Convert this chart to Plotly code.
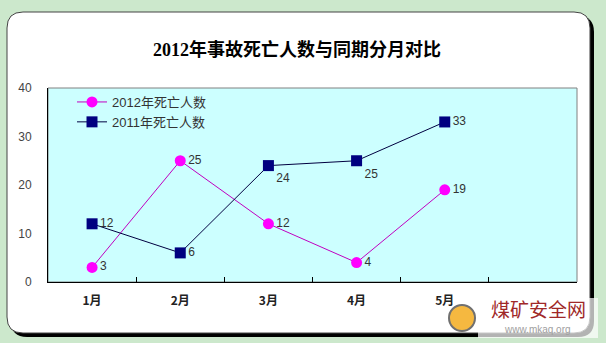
import plotly.graph_objects as go

months = ["1月", "2月", "3月", "4月", "5月"]
deaths_2012 = [3, 25, 12, 4, 19]
deaths_2011 = [12, 6, 24, 25, 33]
name_2012 = "2012年死亡人数"
name_2011 = "2011年死亡人数"
title_text = "2012年事故死亡人数与同期分月对比"
pos_2012 = ["middle right"] * 5
pos_2011 = ["middle right", "middle right", "bottom right", "bottom right", "middle right"]

W, H = 606, 343
L, R, T, B = 48, 577, 88, 282


def px(x):
    return (x - L) / (R - L)


def py(y):
    return (B - y) / (B - T)


def rrect(x0, y0, x1, y1, r):
    pts = [
        ("M", (x0 + r, y0)), ("L", (x1 - r, y0)), ("Q", (x1, y0), (x1, y0 + r)),
        ("L", (x1, y1 - r)), ("Q", (x1, y1), (x1 - r, y1)),
        ("L", (x0 + r, y1)), ("Q", (x0, y1), (x0, y1 - r)),
        ("L", (x0, y0 + r)), ("Q", (x0, y0), (x0 + r, y0)),
    ]
    s = ""
    for p in pts:
        s += p[0] + " " + " ".join(f"{px(a):.5f},{py(b):.5f}" for a, b in p[1:]) + " "
    return s + "Z"


fig = go.Figure()
fig.add_trace(go.Scatter(
    x=months, y=deaths_2012, name=name_2012, mode="lines+markers+text",
    line=dict(color="#c000c0", width=1),
    marker=dict(symbol="circle", size=11, color="#ff00ff"),
    text=[str(v) for v in deaths_2012], textposition=pos_2012,
    textfont=dict(size=12, color="#333333", family="Liberation Sans"),
))
fig.add_trace(go.Scatter(
    x=months, y=deaths_2011, name=name_2011, mode="lines+markers+text",
    line=dict(color="#000040", width=1),
    marker=dict(symbol="square", size=11, color="#000080"),
    text=[str(v) for v in deaths_2011], textposition=pos_2011,
    textfont=dict(size=12, color="#333333", family="Liberation Sans"),
))

shapes = [
    dict(type="path", xref="paper", yref="paper", path=rrect(11, 16, 594, 337, 16),
         fillcolor="black", line=dict(width=0), layer="below"),
    dict(type="path", xref="paper", yref="paper", path=rrect(7, 12, 590, 333, 16),
         fillcolor="white", line=dict(width=1, color="#444444"), layer="below"),
    dict(type="rect", xref="paper", yref="paper", x0=0, x1=1, y0=0, y1=1,
         fillcolor="#ccffff", line=dict(width=1, color="#808080"), layer="below"),
    dict(type="rect", xref="paper", yref="paper", x0=px(478), x1=px(598), y0=py(338), y1=py(298),
         fillcolor="rgba(255,255,255,0.7)", line=dict(width=0), layer="above"),
    dict(type="circle", xref="paper", yref="paper", x0=px(449), x1=px(475), y0=py(305), y1=py(331),
         fillcolor="#f5b840", line=dict(width=2, color="#707070"), layer="above"),
]

annotations = [
    dict(text="煤矿安全网", xref="paper", yref="paper", x=px(538), y=py(308),
         xanchor="center", yanchor="middle",
         showarrow=False, font=dict(size=19, color="#a02828", family="Noto Sans CJK SC")),
    dict(text="www.mkaq.org", xref="paper", yref="paper", x=px(537), y=py(329),
         xanchor="center", yanchor="middle",
         showarrow=False, font=dict(size=10, color="#a0a0a0", family="Liberation Sans")),
]

fig.update_layout(
    width=W, height=H,
    margin=dict(l=L, r=W - R, t=T, b=H - B, autoexpand=False),
    paper_bgcolor="#cce8cc", plot_bgcolor="rgba(0,0,0,0)",
    title=dict(text=title_text, x=297 / W, xanchor="center", y=1 - 50 / H, yanchor="middle",
               font=dict(size=18, color="black", family="Liberation Serif, Noto Sans CJK SC",
                         weight="bold")),
    showlegend=True,
    legend=dict(x=px(72), y=py(87), xanchor="left", yanchor="top", bgcolor="rgba(0,0,0,0)",
                font=dict(size=13, color="#333333", family="Liberation Sans, Noto Sans CJK SC"),
                tracegroupgap=0, itemwidth=30),
    shapes=shapes, annotations=annotations,
    font=dict(family="Liberation Sans, Noto Sans CJK SC"),
)
fig.update_xaxes(
    type="category", categoryorder="array", categoryarray=months, range=[-0.5, 5.5],
    showline=True, linecolor="black", linewidth=1, mirror=False,
    ticks="inside", tickson="boundaries", ticklen=5, tickcolor="black",
    showgrid=False, zeroline=False, ticklabelstandoff=8,
    tickfont=dict(size=12, color="#222222", family="Noto Sans CJK SC", weight="bold"),
)
fig.update_yaxes(
    range=[0, 40], dtick=10, showline=True, linecolor="black", linewidth=1,
    ticks="", showgrid=False, zeroline=False, ticklabelstandoff=13,
    tickfont=dict(size=12, color="#444444", family="Liberation Sans"),
)
fig.write_html("out.html")
